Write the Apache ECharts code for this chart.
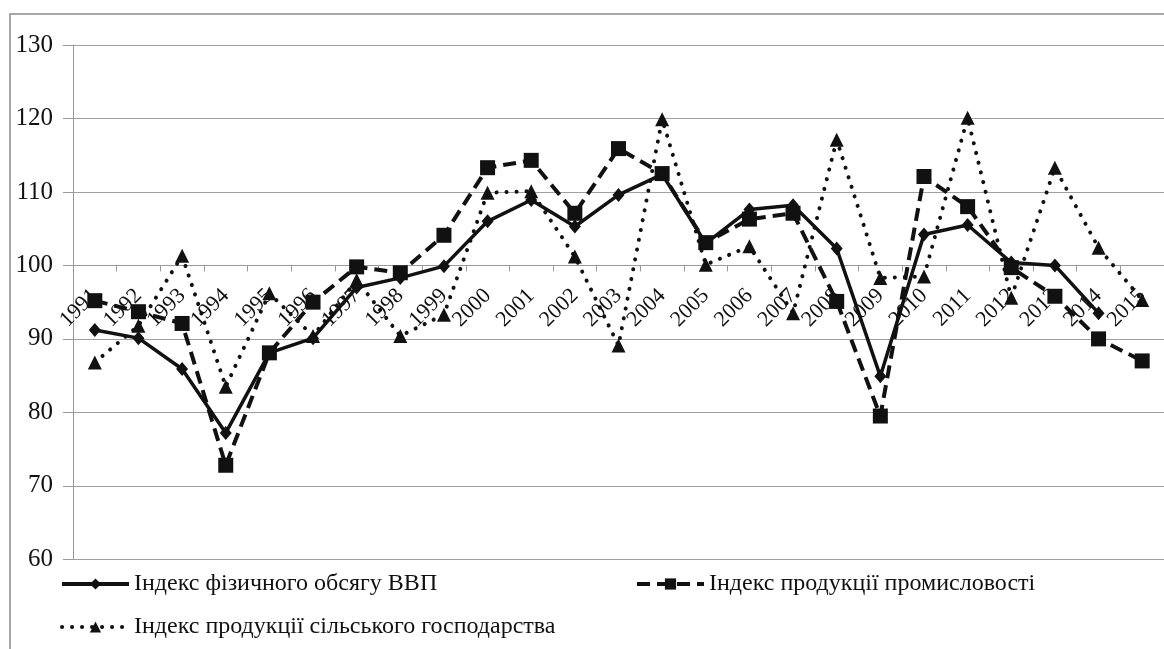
<!DOCTYPE html>
<html>
<head>
<meta charset="utf-8">
<script src="https://cdn.jsdelivr.net/npm/echarts@6/dist/echarts.min.js"></script>
<style>
  html, body { margin: 0; padding: 0; background: #fff; }
  #main { width: 1164px; height: 649px; }
</style>
</head>
<body>
<div id="main"></div>
<script>
var years = ['1991', '1992', '1993', '1994', '1995', '1996', '1997', '1998', '1999', '2000',
  '2001', '2002', '2003', '2004', '2005', '2006', '2007', '2008', '2009', '2010',
  '2011', '2012', '2013', '2014', '2015'];

// Індекс фізичного обсягу ВВП (2015 not shown)
var gdp = [91.2, 90.1, 85.9, 77.2, 88.1, 90.1, 97.0, 98.3, 99.9, 106.0,
  108.9, 105.3, 109.6, 112.4, 103.0, 107.6, 108.2, 102.3, 84.9, 104.2,
  105.5, 100.4, 100.0, 93.5, null];

// Індекс продукції промисловості
var industry = [95.2, 93.7, 92.1, 72.8, 88.1, 95.0, 99.8, 99.0, 104.1, 113.3,
  114.3, 107.1, 115.9, 112.5, 103.1, 106.3, 107.1, 95.1, 79.5, 112.1,
  108.0, 99.7, 95.8, 90.0, 87.0];

// Індекс продукції сільського господарства
var agriculture = [86.8, 91.8, 101.3, 83.5, 96.2, 90.4, 98.0, 90.4, 93.3, 109.9,
  110.1, 101.2, 89.1, 119.9, 100.1, 102.6, 93.5, 117.1, 98.3, 98.5,
  120.1, 95.6, 113.3, 102.4, 95.3];

var yTicks = { min: 60, max: 130, step: 10 };

var myChart = echarts.init(document.getElementById('main'));

var serif = 'Liberation Serif';
var ink = '#111';

var legendText = { fontFamily: serif, fontSize: 24, color: ink };

var option = {
  backgroundColor: '#fff',
  animation: false,
  graphic: [{
    type: 'rect',
    shape: { x: 10, y: 14, width: 1200, height: 700 },
    style: { fill: 'none', stroke: '#8a8a8a', lineWidth: 1.5 },
    silent: true
  }],
  grid: {
    left: 73,
    top: 45,
    width: 1094,
    height: 514.3
  },
  legend: [{
    left: 60,
    top: 572,
    padding: 0,
    itemWidth: 67,
    itemHeight: 14,
    lineStyle: { width: 4 },
    textStyle: legendText,
    data: ['Індекс фізичного обсягу ВВП']
  }, {
    left: 635,
    top: 572,
    padding: 0,
    itemWidth: 67,
    itemHeight: 14,
    lineStyle: { width: 4 },
    textStyle: legendText,
    data: ['Індекс продукції промисловості']
  }, {
    left: 60,
    top: 615,
    padding: 0,
    itemWidth: 67,
    itemHeight: 14,
    lineStyle: { width: 4 },
    textStyle: legendText,
    data: ['Індекс продукції сільського господарства']
  }],
  xAxis: {
    type: 'category',
    data: years,
    boundaryGap: true,
    offset: -293.9,
    axisLine: { show: true, lineStyle: { color: '#999', width: 1 } },
    axisTick: { show: true, length: 6, lineStyle: { color: '#999' } },
    axisLabel: {
      interval: 0,
      rotate: 45,
      margin: 27,
      fontFamily: serif,
      fontSize: 22,
      color: ink
    },
    splitLine: { show: false }
  },
  yAxis: {
    type: 'value',
    min: yTicks.min,
    max: yTicks.max,
    interval: yTicks.step,
    axisLine: { show: true, lineStyle: { color: '#999', width: 1 } },
    axisTick: { show: true, length: 10, lineStyle: { color: '#999' } },
    axisLabel: {
      margin: 20,
      fontFamily: serif,
      fontSize: 25,
      color: ink
    },
    splitLine: { show: true, lineStyle: { color: '#a0a0a0', width: 1.2 } }
  },
  series: [{
    name: 'Індекс продукції сільського господарства',
    type: 'line',
    data: agriculture,
    symbol: 'triangle',
    symbolSize: 14,
    itemStyle: { color: ink },
    lineStyle: { color: ink, width: 4, type: [0.1, 9.9], cap: 'round' },
    z: 2
  }, {
    name: 'Індекс продукції промисловості',
    type: 'line',
    data: industry,
    symbol: 'rect',
    symbolSize: 15,
    itemStyle: { color: ink },
    lineStyle: { color: ink, width: 4, type: [13, 7] },
    z: 3
  }, {
    name: 'Індекс фізичного обсягу ВВП',
    type: 'line',
    data: gdp,
    symbol: 'diamond',
    symbolSize: [12, 14],
    itemStyle: { color: ink },
    lineStyle: { color: ink, width: 3.5 },
    z: 4
  }]
};

myChart.setOption(option);
</script>
</body>
</html>
